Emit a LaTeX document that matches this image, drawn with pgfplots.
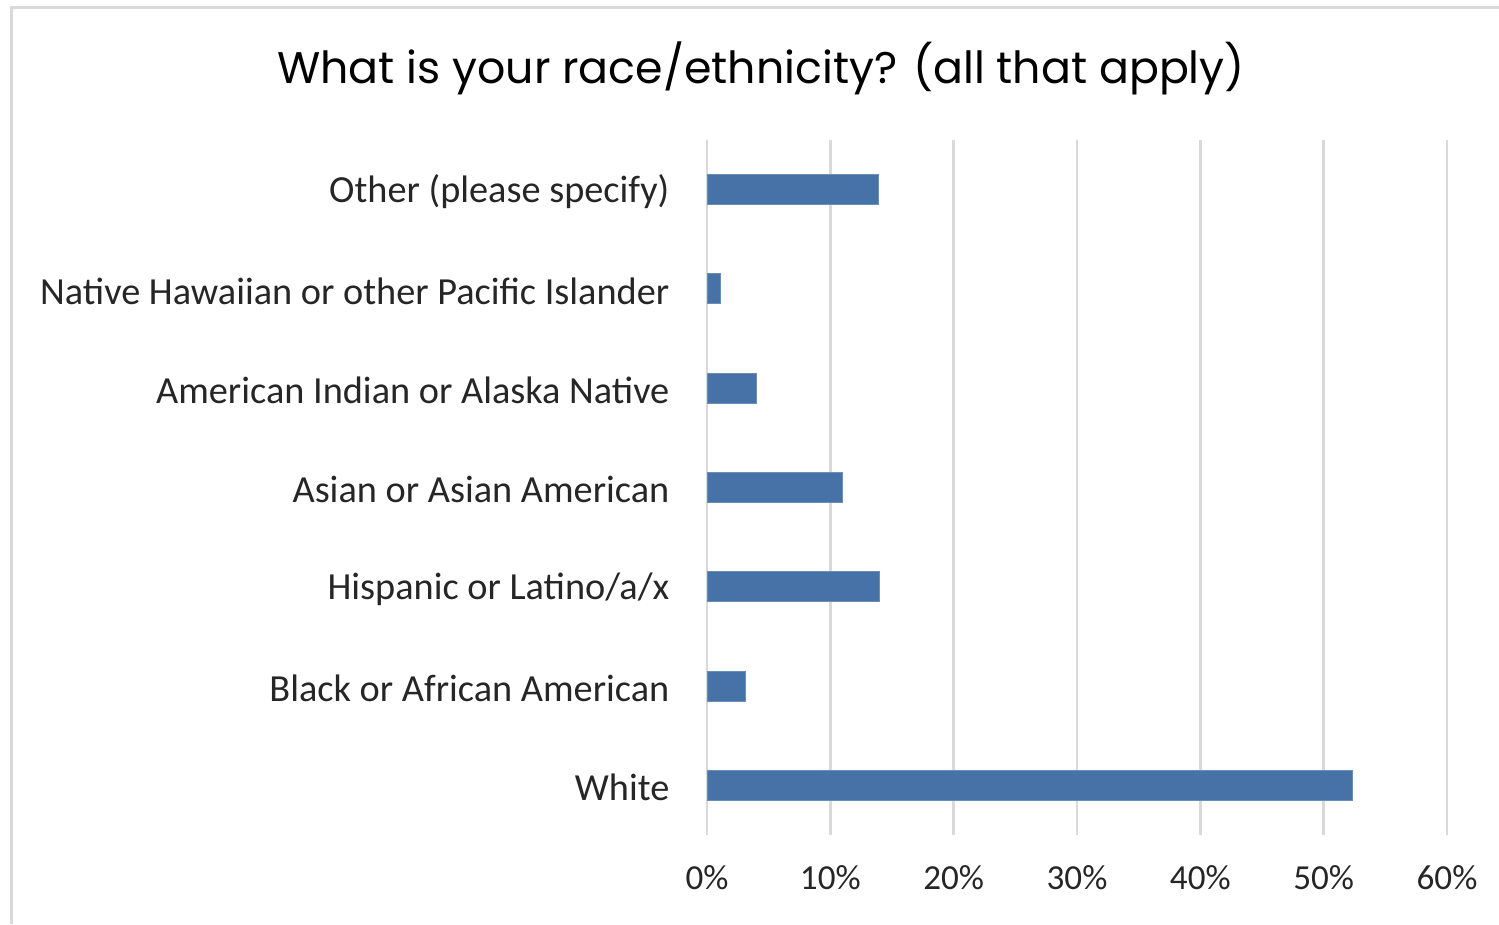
\documentclass[border=0pt]{standalone}
\usepackage{pgfplots}
\pgfplotsset{compat=1.18}
\usepackage{fontspec}
\setmainfont{Carlito}
\newfontfamily\titlefont{Poppins}
\definecolor{barblue}{RGB}{70,114,168}
\definecolor{gridgray}{RGB}{217,217,217}
\definecolor{txt}{RGB}{38,38,38}
\begin{document}
\begin{tikzpicture}
\useasboundingbox (0,0) rectangle (149.9mm,92.4mm);
\fill[white] (0,0) rectangle (149.9mm,92.4mm);
\draw[gridgray, line width=0.3mm] (1.1mm,0) -- (1.1mm,91.6mm) -- (149.9mm,91.6mm);
\node[font=\titlefont\fontsize{12.6pt}{15pt}\selectfont, text=black] at (76.1mm,85.6mm) {What is your race/ethnicity? (all that apply)};
\begin{axis}[
  at={(70.7mm,8.9mm)}, anchor=south west,
  scale only axis, width=74mm, height=69.5mm,
  xmin=0, xmax=60, ymin=-0.5, ymax=6.5,
  xbar, bar width=3mm,
  axis line style={draw=none},
  xmajorgrids, grid style={gridgray, line width=0.75pt},
  major tick length=0pt,
  xtick={0,10,20,30,40,50,60},
  xticklabels={0\%,10\%,20\%,30\%,40\%,50\%,60\%},
  ytick={0,1,2,3,4,5,6},
  yticklabels={White,Black or African American,Hispanic or Latino/a/x,Asian or Asian American,American Indian or Alaska Native,Native Hawaiian or other Pacific Islander,Other (please specify)},
  xticklabel style={font=\fontsize{10pt}{12pt}\selectfont, text=txt, anchor=north, inner sep=0pt, yshift=-3.0mm},
  yticklabel style={font=\fontsize{10.9pt}{13pt}\selectfont, text=txt, anchor=east, inner sep=0pt, xshift=-3.7mm, yshift=-0.2mm},
]
\addplot[fill=barblue, draw=barblue!80!white, line width=0.3pt] coordinates {
  (52.3,0) (3.1,1) (14.0,2) (11.0,3) (4.0,4) (1.1,5) (13.9,6)
};
\end{axis}
\end{tikzpicture}
\end{document}
